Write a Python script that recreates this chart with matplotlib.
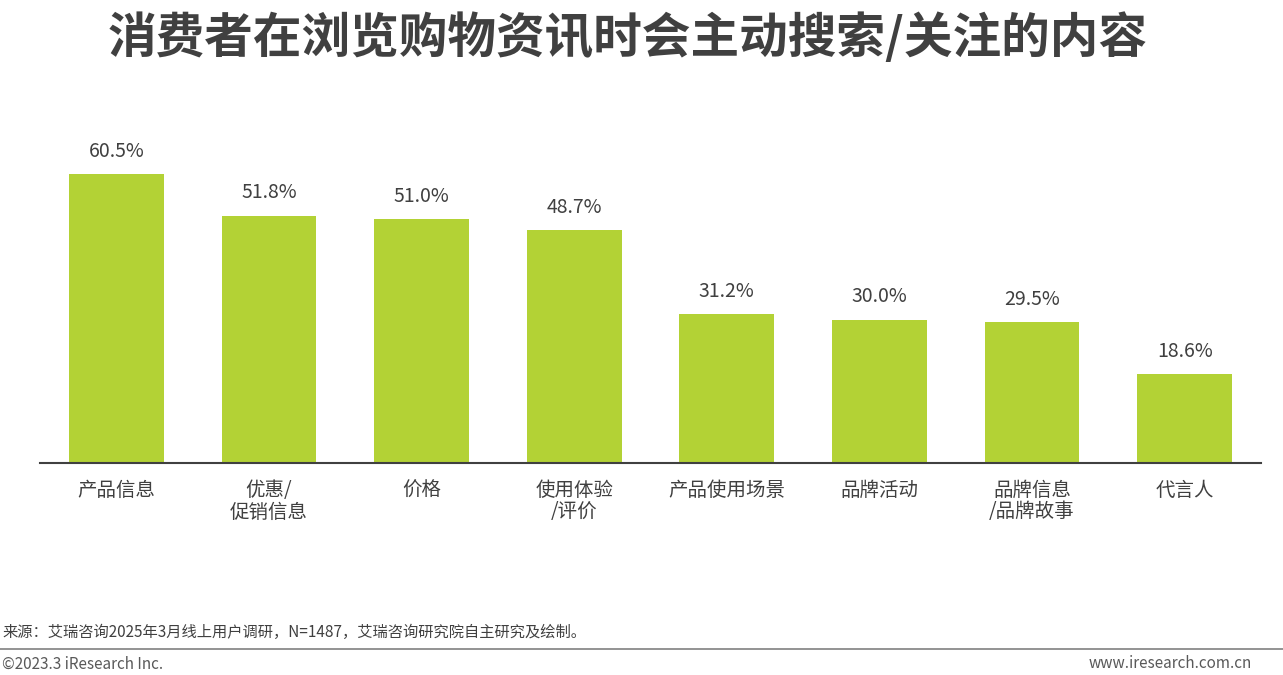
import matplotlib
matplotlib.use("Agg")
import matplotlib.pyplot as plt

plt.rcParams['font.family'] = ['Noto Sans CJK SC', 'DejaVu Sans']

categories = ["产品信息", "优惠/\n促销信息", "价格", "使用体验\n/评价", "产品使用场景", "品牌活动", "品牌信息\n/品牌故事", "代言人"]
values = [60.5, 51.8, 51.0, 48.7, 31.2, 30.0, 29.5, 18.6]

W, H = 1283, 675
fig = plt.figure(figsize=(W/100, H/100), dpi=100)
ax = fig.add_axes([40/W, 1-463/H, 1221/W, 353/H])
x = range(len(values))
ax.bar(x, values, width=0.62, color="#B3D235")
ax.set_xlim(-0.5, len(values)-0.5)
ax.set_ylim(0, 73.9)
for i, v in zip(x, values):
    ax.text(i, v + 2.6, f"{v:.1f}%", ha="center", va="bottom", fontsize=14, color="#404040")
ax.set_yticks([])
ax.set_xticks(list(x))
ax.set_xticklabels(categories, fontsize=14, color="#404040", linespacing=1.05, va="top")
ax.tick_params(axis="x", length=0, pad=12)
for s in ["top", "right", "left"]:
    ax.spines[s].set_visible(False)
ax.spines["bottom"].set_color("#404040")
ax.spines["bottom"].set_linewidth(1.5)

fig.text(628/W, 1-38/H, "消费者在浏览购物资讯时会主动搜索/关注的内容", ha="center", va="center",
         fontsize=35, fontweight="bold", color="#404040")
fig.text(2/W, 1-632/H, "来源：艾瑞咨询2025年3月线上用户调研，N=1487，艾瑞咨询研究院自主研究及绘制。",
         ha="left", va="center", fontsize=11, color="#404040")
fig.add_artist(plt.Line2D([0, 1], [1-649/H, 1-649/H], color="#808080", linewidth=1.2))
fig.text(2/W, 1-664/H, "©2023.3 iResearch Inc.", ha="left", va="center", fontsize=11, color="#595959")
fig.text(1252/W, 1-664/H, "www.iresearch.com.cn", ha="right", va="center", fontsize=11, color="#595959")
fig.savefig("out.png", dpi=100)
